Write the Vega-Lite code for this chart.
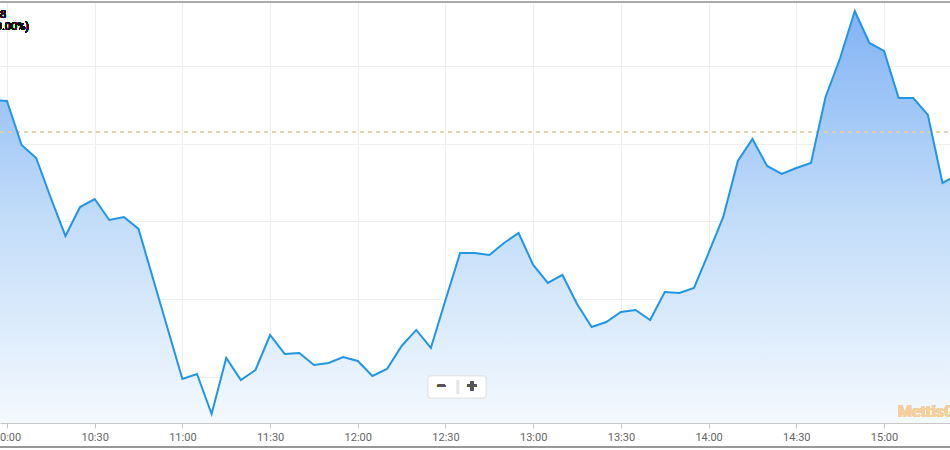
{
  "$schema": "https://vega.github.io/schema/vega-lite/v6.json",
  "width": 950,
  "height": 421,
  "autosize": {"type": "none"},
  "padding": {"top": 2, "left": 0, "right": 0, "bottom": 27},
  "config": {"view": {"stroke": null}},
  "data": {
    "values": [
      {"time": "2024-01-01T09:55:00", "price": 1035.63},
      {"time": "2024-01-01T10:00:00", "price": 1035.50},
      {"time": "2024-01-01T10:05:00", "price": 1029.84},
      {"time": "2024-01-01T10:10:00", "price": 1028.17},
      {"time": "2024-01-01T10:15:00", "price": 1023.02},
      {"time": "2024-01-01T10:20:00", "price": 1018.14},
      {"time": "2024-01-01T10:25:00", "price": 1021.86},
      {"time": "2024-01-01T10:30:00", "price": 1022.89},
      {"time": "2024-01-01T10:35:00", "price": 1020.19},
      {"time": "2024-01-01T10:40:00", "price": 1020.58},
      {"time": "2024-01-01T10:45:00", "price": 1019.04},
      {"time": "2024-01-01T10:50:00", "price": 1012.60},
      {"time": "2024-01-01T10:55:00", "price": 1006.17},
      {"time": "2024-01-01T11:00:00", "price": 999.74},
      {"time": "2024-01-01T11:05:00", "price": 1000.39},
      {"time": "2024-01-01T11:10:00", "price": 995.24},
      {"time": "2024-01-01T11:15:00", "price": 1002.44},
      {"time": "2024-01-01T11:20:00", "price": 999.61},
      {"time": "2024-01-01T11:25:00", "price": 1000.90},
      {"time": "2024-01-01T11:30:00", "price": 1005.40},
      {"time": "2024-01-01T11:35:00", "price": 1002.96},
      {"time": "2024-01-01T11:40:00", "price": 1003.09},
      {"time": "2024-01-01T11:45:00", "price": 1001.54},
      {"time": "2024-01-01T11:50:00", "price": 1001.80},
      {"time": "2024-01-01T11:55:00", "price": 1002.57},
      {"time": "2024-01-01T12:00:00", "price": 1002.06},
      {"time": "2024-01-01T12:05:00", "price": 1000.13},
      {"time": "2024-01-01T12:10:00", "price": 1001.03},
      {"time": "2024-01-01T12:15:00", "price": 1003.99},
      {"time": "2024-01-01T12:20:00", "price": 1006.05},
      {"time": "2024-01-01T12:25:00", "price": 1003.73},
      {"time": "2024-01-01T12:30:00", "price": 1009.90},
      {"time": "2024-01-01T12:35:00", "price": 1015.95},
      {"time": "2024-01-01T12:40:00", "price": 1015.95},
      {"time": "2024-01-01T12:45:00", "price": 1015.69},
      {"time": "2024-01-01T12:50:00", "price": 1017.23},
      {"time": "2024-01-01T12:55:00", "price": 1018.52},
      {"time": "2024-01-01T13:00:00", "price": 1014.41},
      {"time": "2024-01-01T13:05:00", "price": 1012.09},
      {"time": "2024-01-01T13:10:00", "price": 1013.12},
      {"time": "2024-01-01T13:15:00", "price": 1009.39},
      {"time": "2024-01-01T13:20:00", "price": 1006.43},
      {"time": "2024-01-01T13:25:00", "price": 1007.07},
      {"time": "2024-01-01T13:30:00", "price": 1008.36},
      {"time": "2024-01-01T13:35:00", "price": 1008.62},
      {"time": "2024-01-01T13:40:00", "price": 1007.33},
      {"time": "2024-01-01T13:45:00", "price": 1010.93},
      {"time": "2024-01-01T13:50:00", "price": 1010.80},
      {"time": "2024-01-01T13:55:00", "price": 1011.45},
      {"time": "2024-01-01T14:00:00", "price": 1015.95},
      {"time": "2024-01-01T14:05:00", "price": 1020.58},
      {"time": "2024-01-01T14:10:00", "price": 1027.78},
      {"time": "2024-01-01T14:15:00", "price": 1030.61},
      {"time": "2024-01-01T14:20:00", "price": 1027.14},
      {"time": "2024-01-01T14:25:00", "price": 1026.11},
      {"time": "2024-01-01T14:30:00", "price": 1026.88},
      {"time": "2024-01-01T14:35:00", "price": 1027.52},
      {"time": "2024-01-01T14:40:00", "price": 1036.01},
      {"time": "2024-01-01T14:45:00", "price": 1041.03},
      {"time": "2024-01-01T14:50:00", "price": 1047.07},
      {"time": "2024-01-01T14:55:00", "price": 1042.96},
      {"time": "2024-01-01T15:00:00", "price": 1041.93},
      {"time": "2024-01-01T15:05:00", "price": 1035.88},
      {"time": "2024-01-01T15:10:00", "price": 1035.88},
      {"time": "2024-01-01T15:15:00", "price": 1033.70},
      {"time": "2024-01-01T15:20:00", "price": 1024.95},
      {"time": "2024-01-01T15:25:00", "price": 1025.98}
    ]
  },
  "layer": [
    {
      "mark": {"type": "area", "clip": true,
        "color": {"gradient": "linear", "x1": 0, "y1": 0, "x2": 0, "y2": 1,
          "stops": [{"offset": 0, "color": "#82b3f4"}, {"offset": 0.5, "color": "#c2dcf9"}, {"offset": 1, "color": "#f4f9fe"}]}},
      "encoding": {
        "x": {"field": "time", "type": "temporal",
          "scale": {"domain": [
            {"year": 2024, "month": 1, "date": 1, "hours": 9, "minutes": 57, "seconds": 37},
            {"year": 2024, "month": 1, "date": 1, "hours": 15, "minutes": 22, "seconds": 34}], "nice": false},
          "axis": {"title": null, "format": "%H:%M",
            "values": [
              {"year": 2024, "month": 1, "date": 1, "hours": 10, "minutes": 0},
              {"year": 2024, "month": 1, "date": 1, "hours": 10, "minutes": 30},
              {"year": 2024, "month": 1, "date": 1, "hours": 11, "minutes": 0},
              {"year": 2024, "month": 1, "date": 1, "hours": 11, "minutes": 30},
              {"year": 2024, "month": 1, "date": 1, "hours": 12, "minutes": 0},
              {"year": 2024, "month": 1, "date": 1, "hours": 12, "minutes": 30},
              {"year": 2024, "month": 1, "date": 1, "hours": 13, "minutes": 0},
              {"year": 2024, "month": 1, "date": 1, "hours": 13, "minutes": 30},
              {"year": 2024, "month": 1, "date": 1, "hours": 14, "minutes": 0},
              {"year": 2024, "month": 1, "date": 1, "hours": 14, "minutes": 30},
              {"year": 2024, "month": 1, "date": 1, "hours": 15, "minutes": 0}],
            "labelFont": "Roboto", "labelFontSize": 11, "labelColor": "#666666", "labelPadding": 3,
            "labelFlush": false, "labelOverlap": false, "labelBound": false,
            "domainColor": "#c8c8c8", "tickColor": "#c8c8c8", "tickSize": 5,
            "grid": true, "gridColor": "#eeeeee"}},
        "y": {"field": "price", "type": "quantitative",
          "scale": {"domain": [994.08, 1048.23], "nice": false, "zero": false},
          "axis": {"title": null, "labels": false, "ticks": false, "domain": false,
            "values": [1000, 1010, 1020, 1030, 1040], "grid": true, "gridColor": "#eeeeee"}},
        "y2": {"datum": 994.08}
      }
    },
    {
      "mark": {"type": "rule", "color": "#e6d3ad", "strokeDash": [4, 4], "strokeWidth": 1},
      "encoding": {
        "x": {"datum": {"year": 2024, "month": 1, "date": 1, "hours": 9, "minutes": 57, "seconds": 37}},
        "x2": {"datum": {"year": 2024, "month": 1, "date": 1, "hours": 15, "minutes": 22, "seconds": 34}},
        "y": {"datum": 1031.45}
      }
    },
    {
      "mark": {"type": "line", "clip": true, "color": "#1f96e6", "strokeWidth": 2},
      "encoding": {
        "x": {"field": "time", "type": "temporal"},
        "y": {"field": "price", "type": "quantitative"}
      }
    },
    {
      "mark": {"type": "rule", "color": "#aaaaaa", "strokeWidth": 2},
      "encoding": {
        "x": {"datum": {"year": 2024, "month": 1, "date": 1, "hours": 9, "minutes": 57, "seconds": 37}},
        "x2": {"datum": {"year": 2024, "month": 1, "date": 1, "hours": 15, "minutes": 22, "seconds": 34}},
        "y": {"datum": 1048.23}
      }
    },
    {
      "mark": {"type": "rule", "color": "#999999", "strokeWidth": 1.5},
      "encoding": {
        "x": {"datum": {"year": 2024, "month": 1, "date": 1, "hours": 9, "minutes": 57, "seconds": 37}},
        "x2": {"datum": {"year": 2024, "month": 1, "date": 1, "hours": 15, "minutes": 22, "seconds": 34}},
        "y": {"datum": 991.0}
      }
    },
    {
      "mark": {"type": "rect", "fill": "white", "stroke": "#e6e6e6", "strokeWidth": 1, "cornerRadius": 3},
      "encoding": {
        "x": {"datum": {"year": 2024, "month": 1, "date": 1, "hours": 12, "minutes": 24, "seconds": 1}},
        "x2": {"datum": {"year": 2024, "month": 1, "date": 1, "hours": 12, "minutes": 43, "seconds": 52}},
        "y": {"datum": 1000.13},
        "y2": {"datum": 997.3}
      }
    },
    {
      "mark": {"type": "text", "text": "−", "font": "Roboto", "fontSize": 18, "fontWeight": "bold", "color": "#555555", "align": "center", "baseline": "middle"},
      "encoding": {
        "x": {"datum": {"year": 2024, "month": 1, "date": 1, "hours": 12, "minutes": 28, "seconds": 28}},
        "y": {"datum": 998.71}
      }
    },
    {
      "mark": {"type": "text", "text": "|", "font": "Roboto", "fontSize": 16, "color": "#e4e4e4", "align": "center", "baseline": "middle"},
      "encoding": {
        "x": {"datum": {"year": 2024, "month": 1, "date": 1, "hours": 12, "minutes": 34, "seconds": 17}},
        "y": {"datum": 998.71}
      }
    },
    {
      "mark": {"type": "text", "text": "+", "font": "Roboto", "fontSize": 18, "fontWeight": "bold", "color": "#555555", "align": "center", "baseline": "middle"},
      "encoding": {
        "x": {"datum": {"year": 2024, "month": 1, "date": 1, "hours": 12, "minutes": 39, "seconds": 4}},
        "y": {"datum": 998.71}
      }
    },
    {
      "mark": {"type": "text", "text": "MettisGlobal", "font": "Roboto", "fontSize": 16, "fontWeight": "bold", "color": "#f7cf9b", "opacity": 0.9, "align": "left", "baseline": "middle"},
      "encoding": {
        "x": {"datum": {"year": 2024, "month": 1, "date": 1, "hours": 15, "minutes": 4, "seconds": 48}},
        "y": {"datum": 995.5}
      }
    },
    {
      "mark": {"type": "text", "text": "8", "font": "Roboto", "fontSize": 11, "color": "#111111", "align": "left", "baseline": "middle"},
      "encoding": {
        "x": {"datum": {"year": 2024, "month": 1, "date": 1, "hours": 9, "minutes": 57, "seconds": 37}},
        "y": {"datum": 1046.56}
      }
    },
    {
      "mark": {"type": "text", "text": "(0.00%)", "font": "Roboto", "fontSize": 11, "color": "#111111", "align": "left", "baseline": "middle", "dx": -8},
      "encoding": {
        "x": {"datum": {"year": 2024, "month": 1, "date": 1, "hours": 9, "minutes": 57, "seconds": 37}},
        "y": {"datum": 1045.02}
      }
    }
  ]
}
